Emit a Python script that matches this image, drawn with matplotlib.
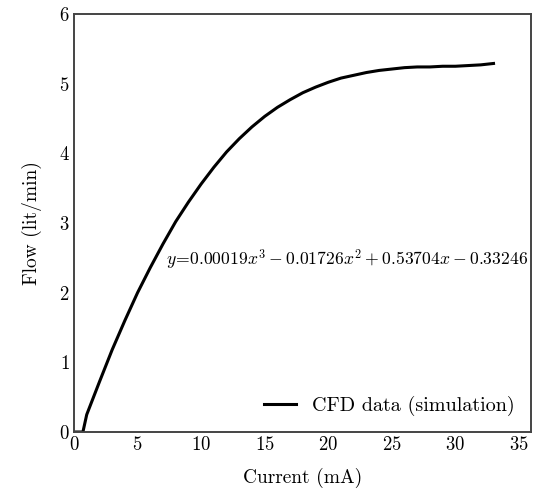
import numpy as np
import matplotlib.pyplot as plt

plt.rcParams['font.family'] = ['cmr10', 'DejaVu Serif']
plt.rcParams['mathtext.fontset'] = 'cm'
plt.rcParams['axes.unicode_minus'] = False
plt.rcParams['axes.formatter.use_mathtext'] = True

# values
current = [0, 0.7, 1, 2, 3, 4, 5, 6, 7, 8, 9, 10, 11, 12, 13, 14, 15, 16, 17,
           18, 19, 20, 21, 22, 23, 24, 25, 26, 27, 28, 29, 30, 31, 32, 33]
flow = [0, 0, 0.25, 0.72, 1.18, 1.6, 2.0, 2.36, 2.7, 3.02, 3.3, 3.56, 3.8,
        4.02, 4.21, 4.38, 4.53, 4.66, 4.77, 4.87, 4.95, 5.02, 5.08, 5.12,
        5.16, 5.19, 5.21, 5.23, 5.24, 5.24, 5.25, 5.25, 5.26, 5.27, 5.29]
xticks = [0, 5, 10, 15, 20, 25, 30, 35]
yticks = [0, 1, 2, 3, 4, 5, 6]

fig = plt.figure(figsize=(5.34, 4.93), dpi=100)
ax = fig.add_axes([0.1386, 0.1237, 0.8558, 0.8479])

ax.plot(current, flow, color='black', lw=2.2, label='CFD data (simulation)')

ax.text(7.2, 2.47,
        r'$y\!=\!0.00019x^3-0.01726x^2+0.53704x-0.33246$',
        fontsize=12.7, va='center')

ax.set_xlim(0, 35.95)
ax.set_ylim(0, 6)
ax.set_xticks(xticks)
ax.set_yticks(yticks)
ax.tick_params(length=0, labelsize=13.5, pad=3)
for s in ax.spines.values():
    s.set_color('#444444')
    s.set_linewidth(1.4)

ax.set_xlabel('Current (mA)', fontsize=14, labelpad=10)
ax.set_ylabel('Flow (lit/min)', fontsize=14, labelpad=12)

ax.legend(loc='lower right', frameon=False, fontsize=14.5, handlelength=1.6,
          borderaxespad=0.4)

fig.savefig('out.png', dpi=100)
